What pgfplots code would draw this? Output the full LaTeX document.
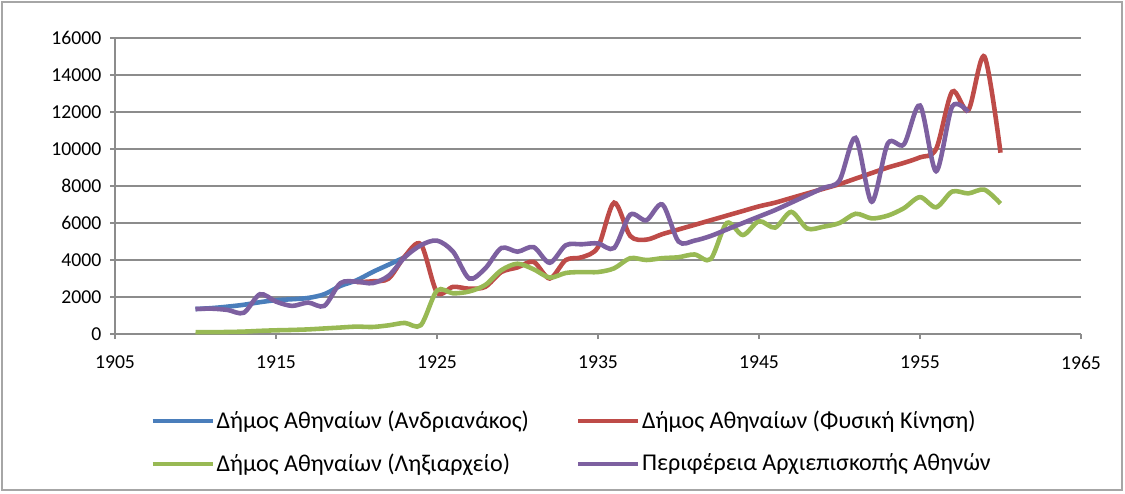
\documentclass[border=0pt]{standalone}
\usepackage{fontspec}
\setmainfont{Carlito}
\usepackage{pgfplots}
\pgfplotsset{compat=1.18}
\definecolor{sblue}{HTML}{4A7EBB}
\definecolor{sred}{HTML}{BE4B48}
\definecolor{sgreen}{HTML}{98B954}
\definecolor{spurple}{HTML}{7D60A0}
\definecolor{gridgray}{HTML}{8C8C8C}
\definecolor{bordergray}{HTML}{A6A6A6}
\begin{document}
\begin{tikzpicture}
\useasboundingbox (-2.3,-3.18) rectangle (20.2,6.68);
\draw[bordergray, line width=0.8pt] (-2.26,-3.12) rectangle (20.14,6.64);
\begin{axis}[
  at={(0,0)}, anchor=south west,
  scale only axis, width=19.32cm, height=5.92cm,
  xmin=1905, xmax=1965, ymin=0, ymax=16000,
  xtick={1905,1915,...,1965}, ytick={0,2000,...,16000},
  axis x line*=bottom, axis y line*=left,
  axis line style={-, draw=gridgray, line width=0.9pt},
  ymajorgrids, major grid style={draw=gridgray, line width=0.9pt},
  tick align=outside, major tick length=0.1cm,
  tick style={draw=gridgray, line width=0.9pt},
  ticklabel style={font=\fontsize{11.2}{13}\selectfont},
  yticklabel style={xshift=-0.05cm},
  xticklabel style={yshift=-0.22cm},
  /pgf/number format/1000 sep={}, /pgf/number format/assume math mode=true,
  scaled y ticks=false,
  legend columns=2,
  legend cell align=left,
  legend style={at={(0.031,-0.24)}, anchor=north west, draw=none, fill=none,
    font=\fontsize{13.7}{15}\selectfont, column sep=0pt, row sep=0.37cm,
    /tikz/every even column/.append style={column sep=0.9cm},
    nodes={inner sep=0.04cm}},
  legend image code/.code={\draw[#1, line width=2.3pt] (0cm,0cm) -- (1.2cm,0cm);},
  every axis plot/.append style={line width=2.6pt, smooth, no markers},
]
\addplot[sblue] coordinates {(1910,1350)(1911,1400)(1912,1480)(1913,1580)(1914,1720)(1915,1830)(1916,1880)(1917,1950)(1918,2150)(1919,2600)(1920,2900)(1921,3350)(1922,3750)(1923,4150)};
\addlegendentry{Δήμος Αθηναίων (Ανδριανάκος)}
\addplot[sred] coordinates {(1920,2800)(1921,2850)(1922,3000)(1923,4200)(1924,4850)(1925,2250)(1926,2550)(1927,2450)(1928,2550)(1929,3350)(1930,3600)(1931,3900)(1932,3000)(1933,4000)(1934,4150)(1935,4700)(1936,7100)(1937,5300)(1938,5100)(1939,5400)(1940,5650)(1941,5900)(1942,6150)(1943,6400)(1944,6650)(1945,6900)(1946,7100)(1947,7350)(1948,7600)(1949,7850)(1950,8100)(1951,8400)(1952,8700)(1953,9000)(1954,9250)(1955,9550)(1956,10000)(1957,13100)(1958,12100)(1959,15000)(1960,9800)};
\addlegendentry{Δήμος Αθηναίων (Φυσική Κίνηση)}
\addplot[sgreen] coordinates {(1910,100)(1911,100)(1912,110)(1913,130)(1914,170)(1915,200)(1916,220)(1917,250)(1918,300)(1919,350)(1920,400)(1921,380)(1922,470)(1923,600)(1924,480)(1925,2350)(1926,2200)(1927,2300)(1928,2650)(1929,3450)(1930,3800)(1931,3500)(1932,3050)(1933,3300)(1934,3350)(1935,3350)(1936,3550)(1937,4100)(1938,4000)(1939,4100)(1940,4150)(1941,4300)(1942,4050)(1943,6000)(1944,5350)(1945,6100)(1946,5750)(1947,6600)(1948,5700)(1949,5800)(1950,6000)(1951,6500)(1952,6250)(1953,6400)(1954,6800)(1955,7400)(1956,6850)(1957,7700)(1958,7600)(1959,7800)(1960,7050)};
\addlegendentry{Δήμος Αθηναίων (Ληξιαρχείο)}
\addplot[spurple] coordinates {(1910,1350)(1911,1370)(1912,1300)(1913,1150)(1914,2150)(1915,1750)(1916,1520)(1917,1700)(1918,1520)(1919,2750)(1920,2830)(1921,2750)(1922,3150)(1923,4150)(1924,4800)(1925,5050)(1926,4450)(1927,3000)(1928,3550)(1929,4650)(1930,4450)(1931,4700)(1932,3850)(1933,4800)(1934,4850)(1935,4900)(1936,4650)(1937,6450)(1938,6150)(1939,7000)(1940,5000)(1941,5050)(1942,5300)(1943,5650)(1944,6000)(1945,6350)(1946,6700)(1947,7100)(1948,7500)(1949,7900)(1950,8300)(1951,10600)(1952,7150)(1953,10300)(1954,10250)(1955,12350)(1956,8800)(1957,12300)(1958,12000)};
\addlegendentry{Περιφέρεια Αρχιεπισκοπής Αθηνών}
\end{axis}
\end{tikzpicture}
\end{document}
